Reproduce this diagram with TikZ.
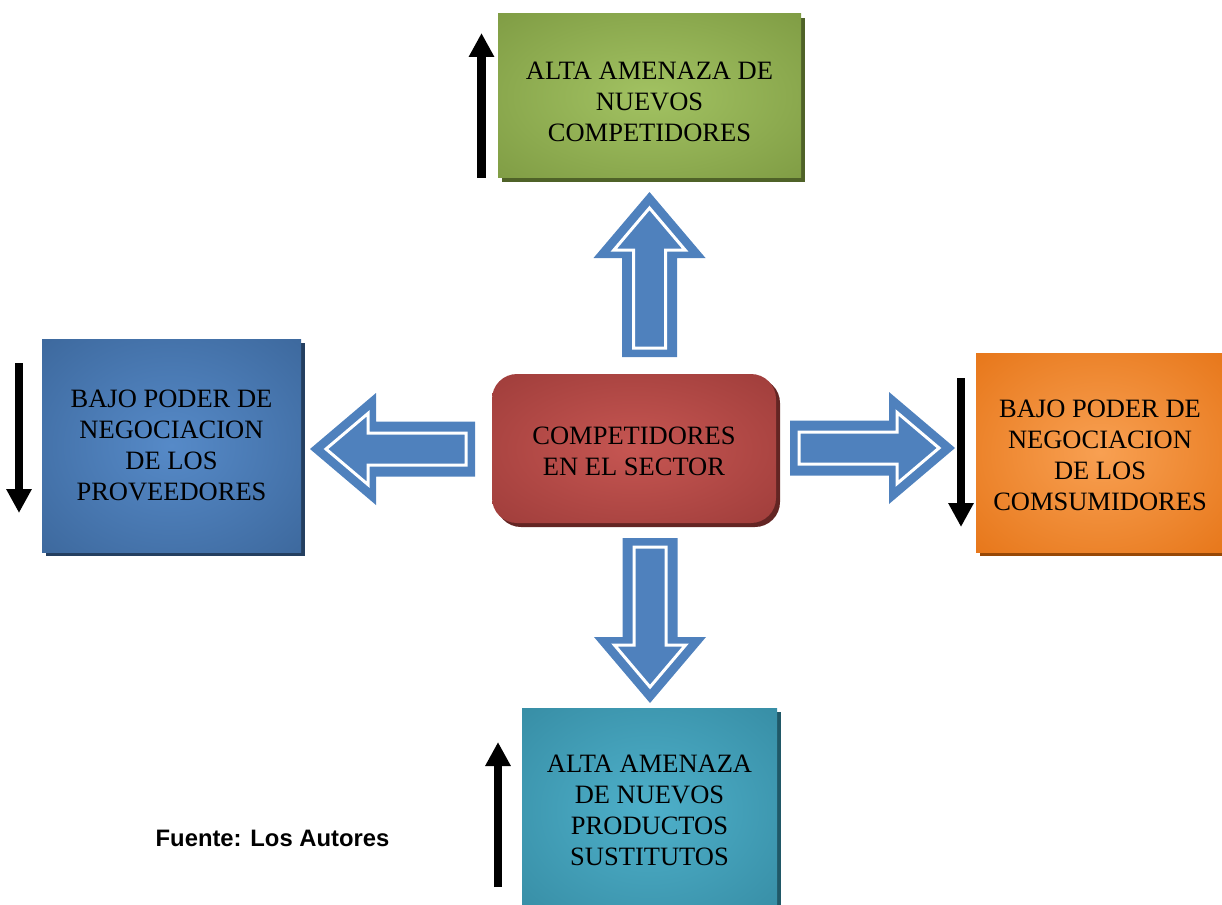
\documentclass[tikz,border=0pt]{standalone}
\usepackage{fontspec}
\setmainfont{Liberation Serif}
\newfontfamily\srcfont{Liberation Sans}
\usetikzlibrary{arrows.meta,shadows}

\definecolor{gIn}{RGB}{162,194,98}
\definecolor{gOut}{RGB}{118,146,60}
\definecolor{gSh}{RGB}{79,98,40}
\definecolor{bIn}{RGB}{86,138,200}
\definecolor{bOut}{RGB}{54,95,145}
\definecolor{bSh}{RGB}{36,63,96}
\definecolor{oIn}{RGB}{248,160,82}
\definecolor{oOut}{RGB}{226,107,10}
\definecolor{oSh}{RGB}{151,72,6}
\definecolor{tIn}{RGB}{78,176,202}
\definecolor{tOut}{RGB}{49,132,155}
\definecolor{tSh}{RGB}{32,88,103}
\definecolor{rIn}{RGB}{198,86,82}
\definecolor{rOut}{RGB}{148,54,52}
\definecolor{rSh}{RGB}{99,37,35}
\definecolor{arrowblue}{RGB}{79,129,189}

\pgfdeclareradialshading{gGlow}{\pgfpoint{0bp}{0bp}}{color(0bp)=(gIn); color(46bp)=(gOut); color(72bp)=(gOut)}
\pgfdeclareradialshading{bGlow}{\pgfpoint{0bp}{0bp}}{color(0bp)=(bIn); color(46bp)=(bOut); color(72bp)=(bOut)}
\pgfdeclareradialshading{oGlow}{\pgfpoint{0bp}{0bp}}{color(0bp)=(oIn); color(46bp)=(oOut); color(72bp)=(oOut)}
\pgfdeclareradialshading{tGlow}{\pgfpoint{0bp}{0bp}}{color(0bp)=(tIn); color(46bp)=(tOut); color(72bp)=(tOut)}
\pgfdeclareradialshading{rGlow}{\pgfpoint{0bp}{0bp}}{color(0bp)=(rIn); color(46bp)=(rOut); color(72bp)=(rOut)}

\tikzset{
  forcebox/.style={rectangle, align=center, inner sep=0pt, text=black,
    font=\fontsize{26.5}{31}\selectfont},
  boxshadow/.style={drop shadow={shadow xshift=4pt, shadow yshift=-4pt, fill=#1, opacity=1}},
  trendarrow/.style={line width=8.5pt, draw=black, -{Triangle[width=24pt,length=24pt]}},
  pics/blockarrow/.style={code={
    \fill[arrowblue] (0,0) -- (56,66) -- (27.5,66) -- (27.5,165) -- (-27.5,165)
      -- (-27.5,66) -- (-56,66) -- cycle;
    \draw[white, line width=3pt, fill=arrowblue, line join=miter] (0,16) -- (35.6,58)
      -- (16,58) -- (16,156) -- (-16,156) -- (-16,58) -- (-35.6,58) -- cycle;
  }}
}

\begin{document}
\begin{tikzpicture}[x=1pt,y=-1pt]
\useasboundingbox (0,0) rectangle (1222,904);
\clip (0,0) rectangle (1222,904);

% boxes
\node[forcebox, shading=gGlow, boxshadow=gSh, minimum width=303pt, minimum height=164pt]
  (nuevos) at (649.5,96) {\rule{0pt}{30pt}ALTA AMENAZA DE\\NUEVOS\\COMPETIDORES};
\node[forcebox, shading=bGlow, boxshadow=bSh, minimum width=259pt, minimum height=213pt]
  (prov) at (171.5,445.5) {BAJO PODER DE\\NEGOCIACION\\DE LOS\\PROVEEDORES};
\node[forcebox, shading=oGlow, boxshadow=oSh, minimum width=248pt, minimum height=199pt]
  (cons) at (1100,452.5) {\rule{0pt}{24pt}BAJO PODER DE\\NEGOCIACION\\DE LOS\\COMSUMIDORES};
\node[forcebox, shading=tGlow, boxshadow=tSh, minimum width=255pt, minimum height=204pt]
  (sust) at (649.5,810) {ALTA AMENAZA\\DE NUEVOS\\PRODUCTOS\\SUSTITUTOS};
\node[forcebox, shading=rGlow, boxshadow=rSh, rounded corners=25pt,
  minimum width=284pt, minimum height=149pt]
  (comp) at (634,448.5) {\rule{0pt}{24pt}COMPETIDORES\\EN EL SECTOR};

% block arrows from the centre box
\pic at (649.5,192) {blockarrow};
\pic[rotate=90] at (310,449) {blockarrow};
\pic[rotate=-90] at (955,448) {blockarrow};
\pic[rotate=180] at (650,703) {blockarrow};

% trend arrows
\coordinate (t1) at (481.5,178); \coordinate (t2) at (481.5,33);
\coordinate (l1) at (19,363);    \coordinate (l2) at (19,513);
\coordinate (r1) at (961,378);   \coordinate (r2) at (961,527);
\coordinate (b1) at (498,887);   \coordinate (b2) at (498,742);
\draw[trendarrow] (t1) -- (t2);
\draw[trendarrow] (l1) -- (l2);
\draw[trendarrow] (r1) -- (r2);
\draw[trendarrow] (b1) -- (b2);

\node[font=\srcfont\bfseries\fontsize{23.8}{28}\selectfont, inner sep=0pt]
  (fuente) at (272.5,838) {Fuente: Los Autores};
\end{tikzpicture}
\end{document}
